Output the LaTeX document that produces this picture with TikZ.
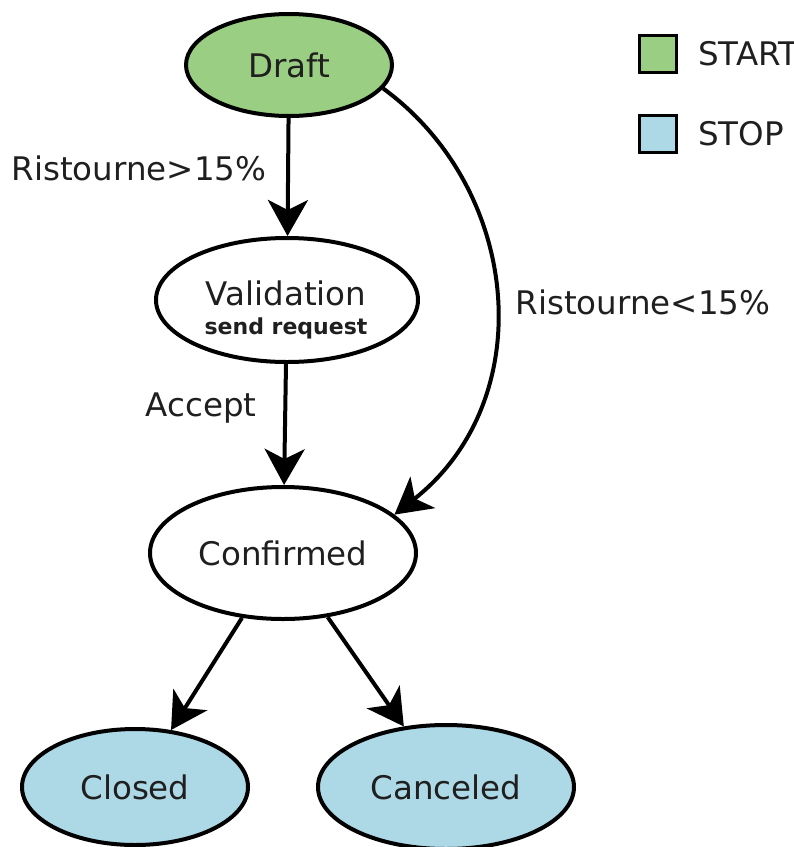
\documentclass[tikz,border=0pt]{standalone}
\usepackage{fontspec}
\setmainfont{DejaVu Sans}
\usepackage{tikz}
\usetikzlibrary{arrows.meta,shapes.geometric}

\definecolor{startgreen}{RGB}{154,206,130}
\definecolor{stopblue}{RGB}{173,216,230}

\begin{document}
\begin{tikzpicture}[x=1pt, y=-1pt, >={Stealth[length=36pt,width=40pt,inset=10pt]},
  font=\fontsize{32.5}{38}\selectfont,
  stnode/.style={draw, ellipse, line width=4pt, inner sep=0pt, fill=white, text=black!88},
  swatch/.style={draw, line width=3.2pt, minimum size=37pt, inner sep=0pt},
  lbl/.style={text=black!88, inner sep=0pt},
  trans/.style={->, line width=4pt}
]
\useasboundingbox (0,0) rectangle (794,847);
% states
\node[stnode, fill=startgreen, minimum width=206pt, minimum height=102pt] (draft) at (289,65) {Draft};
\node[stnode, minimum width=262pt, minimum height=124pt] (valid) at (287,300) {};
\node[lbl, align=center] (validtxt) at (286,310)
  {Validation\\[-9pt]{\fontsize{22}{24}\selectfont\bfseries send request}};
\node[stnode, minimum width=266pt, minimum height=132pt] (conf) at (283,553) {Confirmed};
\node[stnode, fill=stopblue, minimum width=226pt, minimum height=116pt] (closed) at (135,787) {Closed};
\node[stnode, fill=stopblue, minimum width=256pt, minimum height=124pt] (canc) at (446,787) {Canceled};
% transitions
\draw[trans] (draft) -- (valid);
\node[lbl] (gt) at (139,168) {Ristourne>15\%};
\draw[trans] (draft.-14) .. controls (522,190) and (540,400) .. (conf.19);
\node[lbl] (lt) at (643,302) {Ristourne<15\%};
\draw[trans] (valid) -- (conf);
\node[lbl] (acc) at (201,408) {Accept};
\draw[trans] (conf) -- (closed);
\draw[trans] (conf) -- (canc);
% legend
\node[swatch, fill=startgreen] (kstart) at (658,54) {};
\node[lbl, anchor=west] (tstart) at (698,54) {START};
\node[swatch, fill=stopblue] (kstop) at (658,134) {};
\node[lbl, anchor=west] (tstop) at (698,134) {STOP};
\end{tikzpicture}
\end{document}
